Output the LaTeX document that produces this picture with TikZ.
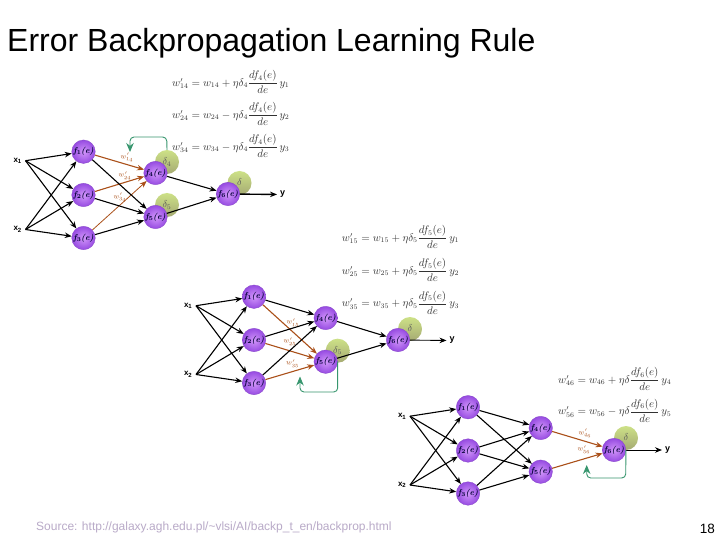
\documentclass[tikz,border=0pt]{standalone}
\usepackage{fontspec}
\usepackage{amsmath}
\setsansfont{Liberation Sans}
\usetikzlibrary{arrows.meta}
\definecolor{brownedge}{RGB}{170,80,25}
\definecolor{greenedge}{RGB}{55,150,110}
\definecolor{srcgray}{RGB}{185,170,200}
\definecolor{formula}{RGB}{50,50,50}
\definecolor{ballin}{RGB}{210,150,250}
\definecolor{ballout}{RGB}{150,75,225}
\definecolor{ballrim}{RGB}{135,70,200}
\definecolor{dtop}{RGB}{205,225,135}
\definecolor{dbot}{RGB}{165,170,115}
\newcommand{\fnode}[4]{\node[fball] (#1) at (#2,#3) {\textit{f}\textsubscript{\!#4}\kern-.5pt\textit{(e)}};}
\newcommand{\dnode}[4]{\node[dball] (#1) at (#2,#3) {$\delta_{#4}$};}
\newcommand{\formulaat}[3]{\node[formulatext] at (#1,#2) {$#3$};}
\newcommand{\netbase}[3]{%
  \fnode{#1a}{\fpeval{254+#2}}{\fpeval{296.7+#3}}{1}
  \fnode{#1b}{\fpeval{254+#2}}{\fpeval{340+#3}}{2}
  \fnode{#1c}{\fpeval{254+#2}}{\fpeval{383+#3}}{3}
  \node[xlabel] (#1x) at (\fpeval{196+#2},\fpeval{305.7+#3}) {x\textsubscript{1}};
  \node[xlabel] (#1z) at (\fpeval{196+#2},\fpeval{374.5+#3}) {x\textsubscript{2}};
  \foreach \t in {a,b,c} {
    \draw[edge] (#1x.east) -- (#1\t);
    \draw[edge] (#1z.east) -- (#1\t);
  }
}
\tikzset{
  x=1pt,y=-1pt,
  fball/.style={circle,minimum size=23.5pt,inner sep=0pt,shading=radial,inner color=ballin,
    outer color=ballout,draw=ballrim,line width=.3pt,font=\rmfamily\bfseries\fontsize{8.5}{8}\selectfont,text=black!80!blue},
  dball/.style={circle,minimum size=24pt,inner sep=0pt,top color=dtop,bottom color=dbot,
    draw=none,font=\fontsize{10}{10}\selectfont,text=black!65},
  edge/.style={draw=black,line width=1.1pt,-{Stealth[length=7pt,width=5.5pt]}},
  hot/.style={draw=brownedge,line width=1.1pt,-{Stealth[length=7pt,width=5.5pt]}},
  feedback/.style={draw=greenedge,line width=.9pt,rounded corners=4pt,-{Stealth[length=9pt,width=7.5pt]}},
  xlabel/.style={anchor=east,inner sep=3.5pt,font=\sffamily\bfseries\fontsize{8}{9}\selectfont},
  ylabel/.style={anchor=west,inner sep=3pt,font=\sffamily\bfseries\fontsize{9}{9}\selectfont},
  wlabel/.style={text=brownedge,rotate=-6,inner sep=0pt,font=\fontsize{7}{7}\selectfont},
  formulatext/.style={anchor=west,inner sep=0pt,text=formula,font=\fontsize{10.5}{12}\selectfont},
}
\begin{document}
\begin{tikzpicture}
\useasboundingbox (0,0) rectangle (720,540);
\fill[white] (0,0) rectangle (720,540);
\node[anchor=base west,inner sep=0pt,font=\sffamily\fontsize{32}{32}\selectfont] (title) at (7,52) {Error Backpropagation Learning Rule};
\node[anchor=base west,inner sep=0pt,text=srcgray,font=\sffamily\fontsize{12}{12}\selectfont] (source) at (36,530) {Source: http://galaxy.agh.edu.pl/\textasciitilde vlsi/AI/backp\_t\_en/backprop.html};
\node[anchor=base east,inner sep=0pt,font=\sffamily\fontsize{13.5}{14}\selectfont] (page) at (715,533) {18};

% ---------- network 1
\dnode{Adf}{167}{162}{4}
\dnode{Ade}{167}{205}{5}
\dnode{Adg}{239.5}{183}{}
\netbase{A}{-170.5}{-145}
\fnode{Ad}{155.5}{173}{4}
\fnode{Ae}{155.5}{217}{5}
\fnode{Af}{228}{194}{6}
\node[ylabel] (Ay) at (277,194.5) {y};
\draw[hot] (Aa) -- (Ad);
\draw[hot] (Ab) -- (Ad);
\draw[hot,line width=.8pt] (Ac) -- (Ad);
\draw[edge] (Aa) -- (Ae);
\draw[edge] (Ab) -- (Ae);
\draw[edge] (Ac) -- (Ae);
\draw[edge] (Ad) -- (Af);
\draw[edge] (Ae) -- (Af);
\draw[edge,line width=1.4pt] (Af) -- (Ay);
\coordinate (Ag1) at (166.7,137);
\coordinate (Ag2) at (130,137);
\coordinate (Ag3) at (130,152);
\draw[feedback] (Adf.north) -- (Ag1) -- (Ag2) -- (Ag3);
\node[wlabel] at (127,157) {$w'_{14}$};
\node[wlabel] at (125,175.7) {$w'_{24}$};
\node[wlabel] at (120,197) {$w'_{34}$};
\formulaat{172}{82}{w'_{14}=w_{14}+\eta\delta_4\dfrac{df_4(e)}{de}\,y_1}
\formulaat{172}{114}{w'_{24}=w_{24}-\eta\delta_4\dfrac{df_4(e)}{de}\,y_2}
\formulaat{172}{146}{w'_{34}=w_{34}-\eta\delta_4\dfrac{df_4(e)}{de}\,y_3}

% ---------- network 2
\dnode{Bde}{337.7}{350.7}{5}
\dnode{Bdg}{410}{329}{}
\netbase{B}{0}{0}
\fnode{Bd}{325.7}{318}{4}
\fnode{Be}{325.7}{361.7}{5}
\fnode{Bf}{398}{340}{6}
\node[ylabel] (By) at (446.5,340.5) {y};
\draw[hot] (Ba) -- (Be);
\draw[hot] (Bb) -- (Be);
\draw[hot] (Bc) -- (Be);
\draw[edge] (Ba) -- (Bd);
\draw[edge] (Bb) -- (Bd);
\draw[edge] (Bc) -- (Bd);
\draw[edge] (Bd) -- (Bf);
\draw[edge] (Be) -- (Bf);
\draw[edge,line width=.9pt] (Bf) -- (By);
\coordinate (Bg1) at (337.7,392);
\coordinate (Bg2) at (300,392);
\coordinate (Bg3) at (300,376.5);
\draw[feedback] (Be.east) -- (Bg1) -- (Bg2) -- (Bg3);
\node[wlabel] at (293,322.7) {$w'_{15}$};
\node[wlabel] at (290,341.7) {$w'_{25}$};
\node[wlabel] at (292.7,363.3) {$w'_{35}$};
\formulaat{341.7}{237}{w'_{15}=w_{15}+\eta\delta_5\dfrac{df_5(e)}{de}\,y_1}
\formulaat{341.7}{270}{w'_{25}=w_{25}+\eta\delta_5\dfrac{df_5(e)}{de}\,y_2}
\formulaat{341.7}{302.7}{w'_{35}=w_{35}+\eta\delta_5\dfrac{df_5(e)}{de}\,y_3}

% ---------- network 3
\dnode{Cdg}{626}{438}{}
\netbase{C}{214}{110.5}
\fnode{Cd}{540.7}{428}{4}
\fnode{Ce}{540.7}{471.7}{5}
\fnode{Cf}{614}{450}{6}
\node[ylabel] (Cy) at (662,450) {y};
\draw[edge] (Ca) -- (Cd);
\draw[edge] (Cb) -- (Cd);
\draw[edge] (Cc) -- (Cd);
\draw[edge] (Ca) -- (Ce);
\draw[edge] (Cb) -- (Ce);
\draw[edge] (Cc) -- (Ce);
\draw[hot] (Cd) -- (Cf);
\draw[hot] (Ce) -- (Cf);
\draw[edge,line width=.9pt] (Cf) -- (Cy);
\coordinate (Cg1) at (625.7,478);
\coordinate (Cg2) at (586.7,478);
\coordinate (Cg3) at (586.7,465);
\draw[feedback] (Cf.east) -- (Cg1) -- (Cg2) -- (Cg3);
\node[wlabel] at (585,433) {$w'_{46}$};
\node[wlabel] at (584,449.5) {$w'_{56}$};
\formulaat{558}{379}{w'_{46}=w_{46}+\eta\delta\dfrac{df_6(e)}{de}\,y_4}
\formulaat{558}{410.7}{w'_{56}=w_{56}-\eta\delta\dfrac{df_6(e)}{de}\,y_5}
\end{tikzpicture}
\end{document}
